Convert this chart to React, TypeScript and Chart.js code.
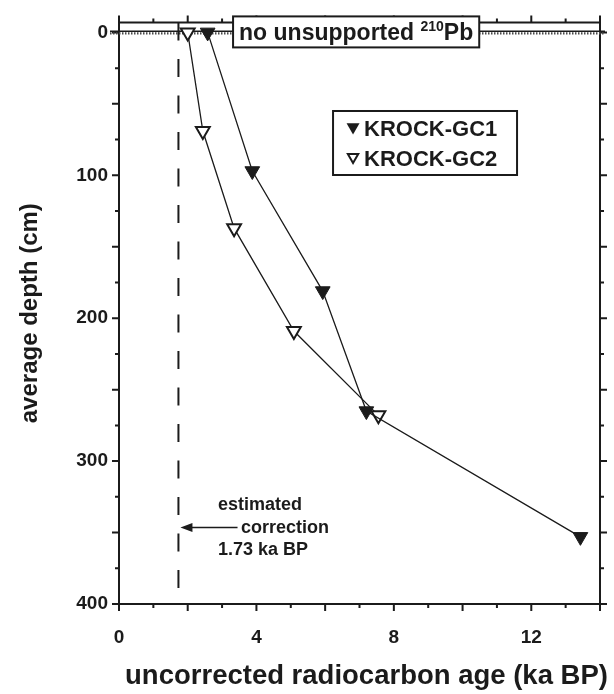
import React, { useEffect, useRef } from 'react';
import { Chart, registerables } from 'chart.js';

Chart.register(...registerables);

// ---- data ----
const gc1Age = [2.58, 3.88, 5.93, 7.2, 13.43];
const gc1Depth = [0, 97, 181, 265, 353];
const gc2Age = [2.0, 2.44, 3.35, 5.09, 7.55];
const gc2Depth = [0, 69, 137, 209, 268];
const seriesNames = ['KROCK-GC1', 'KROCK-GC2'];
const xTickLabels = [0, 4, 8, 12];
const yTickLabels = [0, 100, 200, 300, 400];
const correctionAge = 1.73;
const correctionText = ['estimated', 'correction', '1.73 ka BP'];
const xTitle = 'uncorrected radiocarbon age (ka BP)';
const yTitle = 'average depth (cm)';
const topBoxText = ['no unsupported ', '210', 'Pb'];

const INK = '#1b1b1b';
const FONT = "'Liberation Sans', Arial, Helvetica, sans-serif";

function tri(ctx: CanvasRenderingContext2D, cx: number, cy: number, r: number, filled: boolean) {
  ctx.beginPath();
  ctx.moveTo(cx - r * 0.866, cy - r * 0.5);
  ctx.lineTo(cx + r * 0.866, cy - r * 0.5);
  ctx.lineTo(cx, cy + r);
  ctx.closePath();
  if (filled) {
    ctx.fillStyle = INK;
    ctx.fill();
  } else {
    ctx.fillStyle = '#fff';
    ctx.fill();
    ctx.lineWidth = 2;
    ctx.strokeStyle = INK;
    ctx.stroke();
  }
}

const framePlugin = {
  id: 'frame',
  beforeDatasetsDraw(chart: any) {
    const { ctx, chartArea: a } = chart;
    const x = chart.scales.x;
    const y = chart.scales.y;
    ctx.save();
    ctx.strokeStyle = INK;
    ctx.lineWidth = 2;
    ctx.beginPath();
    ctx.rect(a.left, a.top, a.right - a.left, a.bottom - a.top);
    ctx.stroke();
    ctx.beginPath();
    for (let v = x.min; v <= x.max; v += 1) {
      const px = x.getPixelForValue(v);
      const len = v % 2 === 0 ? 7 : 4;
      ctx.moveTo(px, a.bottom);
      ctx.lineTo(px, a.bottom + len);
      ctx.moveTo(px, a.top);
      ctx.lineTo(px, a.top - len);
    }
    for (let d = 0; d <= y.max; d += 25) {
      const py = y.getPixelForValue(d);
      const len = d % 50 === 0 ? 7 : 4;
      ctx.moveTo(a.left - len, py);
      ctx.lineTo(a.left, py);
      ctx.moveTo(a.right, py);
      ctx.lineTo(a.right + len, py);
    }
    ctx.stroke();

    // hatched zero line
    const p0 = y.getPixelForValue(0);
    ctx.lineWidth = 1.5;
    ctx.beginPath();
    ctx.moveTo(a.left - 9, p0 - 1.2);
    ctx.lineTo(a.right + 5, p0 - 1.2);
    ctx.stroke();
    ctx.setLineDash([1.5, 1.5]);
    ctx.lineWidth = 2.4;
    ctx.strokeStyle = '#4a4a4a';
    ctx.beginPath();
    ctx.moveTo(a.left - 9, p0 + 1);
    ctx.lineTo(a.right + 5, p0 + 1);
    ctx.stroke();

    // dashed correction line
    const pc = x.getPixelForValue(correctionAge);
    ctx.setLineDash([18, 18.5]);
    ctx.strokeStyle = INK;
    ctx.lineWidth = 2;
    ctx.beginPath();
    ctx.moveTo(pc, a.top);
    ctx.lineTo(pc, a.bottom);
    ctx.stroke();
    ctx.restore();
  },
  afterDatasetsDraw(chart: any) {
    const { ctx, chartArea: a } = chart;
    const x = chart.scales.x;
    const y = chart.scales.y;
    ctx.save();
    ctx.textBaseline = 'middle';
    ctx.textAlign = 'left';

    // "no unsupported 210Pb" box
    const p0 = y.getPixelForValue(0);
    const big = `bold 23px ${FONT}`;
    const sup = `bold 14px ${FONT}`;
    ctx.font = big;
    const w1 = ctx.measureText(topBoxText[0]).width;
    const w3 = ctx.measureText(topBoxText[2]).width;
    ctx.font = sup;
    const w2 = ctx.measureText(topBoxText[1]).width;
    const bx = x.getPixelForValue(3.32);
    const bw = w1 + w2 + w3 + 12;
    const by = p0 - 16;
    ctx.fillStyle = '#fff';
    ctx.fillRect(bx, by, bw, 31);
    ctx.strokeStyle = INK;
    ctx.lineWidth = 2;
    ctx.strokeRect(bx, by, bw, 31);
    ctx.fillStyle = INK;
    ctx.font = big;
    ctx.fillText(topBoxText[0], bx + 6, p0 + 1);
    ctx.font = sup;
    ctx.fillText(topBoxText[1], bx + 6 + w1, p0 - 5);
    ctx.font = big;
    ctx.fillText(topBoxText[2], bx + 6 + w1 + w2, p0 + 1);

    // legend box
    const lx = x.getPixelForValue(6.23);
    const ly = y.getPixelForValue(55);
    const lw = 184;
    const lh = 64;
    ctx.fillStyle = '#fff';
    ctx.fillRect(lx, ly, lw, lh);
    ctx.lineWidth = 2;
    ctx.strokeStyle = INK;
    ctx.strokeRect(lx, ly, lw, lh);
    ctx.font = `bold 22px ${FONT}`;
    const rows = [ly + 18, ly + 48];
    tri(ctx, lx + 20, rows[0] - 2, 7.5, true);
    tri(ctx, lx + 20, rows[1] - 2, 6, false);
    ctx.fillStyle = INK;
    ctx.fillText(seriesNames[0], lx + 31, rows[0] + 1);
    ctx.fillText(seriesNames[1], lx + 31, rows[1] + 1);

    // correction annotation
    ctx.font = `bold 18px ${FONT}`;
    ctx.fillStyle = INK;
    const tx = x.getPixelForValue(2.88);
    ctx.fillText(correctionText[0], tx, y.getPixelForValue(331));
    const cy = y.getPixelForValue(346.5);
    ctx.fillText(correctionText[1], x.getPixelForValue(3.55), cy);
    ctx.fillText(correctionText[2], tx, y.getPixelForValue(362.5));
    const pc = x.getPixelForValue(correctionAge);
    const ax = x.getPixelForValue(3.45);
    ctx.strokeStyle = INK;
    ctx.lineWidth = 1.5;
    ctx.beginPath();
    ctx.moveTo(ax, cy);
    ctx.lineTo(pc + 10, cy);
    ctx.stroke();
    ctx.beginPath();
    ctx.moveTo(pc + 2, cy);
    ctx.lineTo(pc + 14, cy - 4.5);
    ctx.lineTo(pc + 14, cy + 4.5);
    ctx.closePath();
    ctx.fill();

    // x-axis title
    ctx.font = `bold 27.5px ${FONT}`;
    ctx.textAlign = 'center';
    ctx.fillText(xTitle, (a.left + a.right) / 2 + 7, 676);
    ctx.restore();
  },
};

export default function App() {
  const ref = useRef<HTMLCanvasElement | null>(null);
  useEffect(() => {
    if (!ref.current) return;
    document.body.style.margin = '0';
    const tickFont = { family: FONT, size: 19, weight: 'bold' as const };
    const chart = new Chart(ref.current, {
      type: 'scatter',
      data: {
        datasets: [
          {
            label: seriesNames[0],
            data: gc1Age.map((a, i) => ({ x: a, y: gc1Depth[i] })),
            showLine: true,
            borderColor: INK,
            borderWidth: 1.3,
            pointStyle: 'triangle',
            rotation: 180,
            pointRadius: 8.5,
            pointBackgroundColor: INK,
            pointBorderColor: INK,
            pointBorderWidth: 1,
          },
          {
            label: seriesNames[1],
            data: gc2Age.map((a, i) => ({ x: a, y: gc2Depth[i] })),
            showLine: true,
            borderColor: INK,
            borderWidth: 1.3,
            pointStyle: 'triangle',
            rotation: 180,
            pointRadius: 8,
            pointBackgroundColor: '#fff',
            pointBorderColor: INK,
            pointBorderWidth: 2,
          },
        ],
      },
      options: {
        responsive: false,
        animation: false,
        events: [],
        layout: { padding: { top: 18, right: 14, left: 0, bottom: 0 } },
        plugins: { legend: { display: false }, tooltip: { enabled: false } },
        scales: {
          x: {
            type: 'linear',
            position: 'bottom',
            min: 0,
            max: 14,
            afterBuildTicks: (s: any) => {
              s.ticks = xTickLabels.map((v) => ({ value: v }));
            },
            afterFit: (s: any) => {
              s.height = 90;
            },
            grid: { display: false, drawTicks: false },
            border: { display: false },
            ticks: { font: tickFont, color: INK, padding: 22, maxRotation: 0, autoSkip: false },
            title: { display: false },
          },
          y: {
            type: 'linear',
            reverse: true,
            min: -7,
            max: 400,
            afterBuildTicks: (s: any) => {
              s.ticks = yTickLabels.map((v) => ({ value: v }));
            },
            afterFit: (s: any) => {
              s.width = 119;
            },
            grid: { display: false, drawTicks: false },
            border: { display: false },
            ticks: { font: tickFont, color: INK, padding: 11, autoSkip: false },
            title: {
              display: true,
              text: yTitle,
              color: INK,
              font: { family: FONT, size: 24, weight: 'bold' },
              padding: { top: 16, bottom: 0 },
            },
          },
        },
      },
      plugins: [framePlugin],
    } as any);
    return () => chart.destroy();
  }, []);
  return (
    <div style={{ position: 'absolute', left: 0, top: 0, width: 614, height: 694, background: '#fff' }}>
      <canvas ref={ref} width={614} height={694} style={{ width: 614, height: 694 }} />
    </div>
  );
}
